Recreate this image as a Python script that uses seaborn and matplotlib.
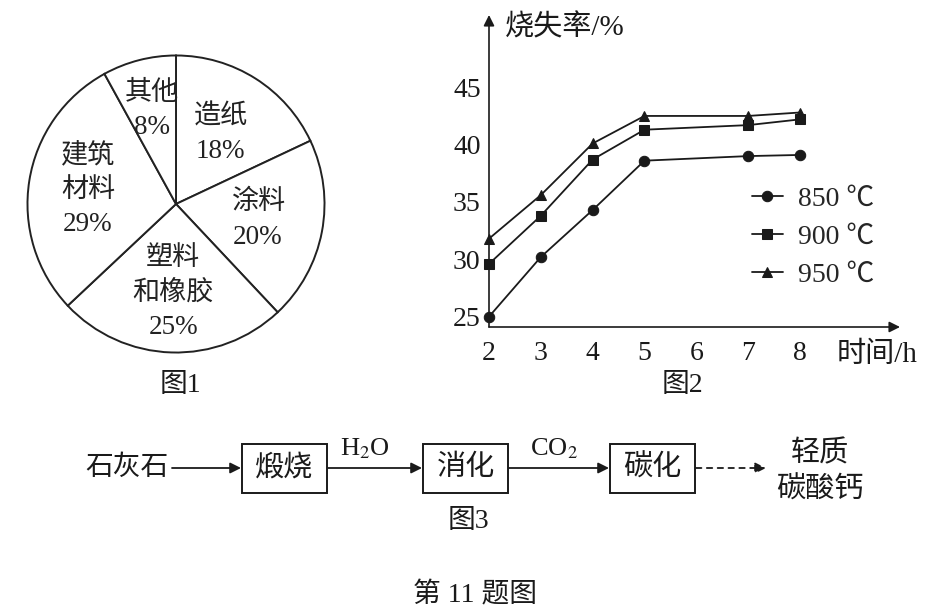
import numpy as np
import pandas as pd
import matplotlib
matplotlib.use('Agg')
import matplotlib.pyplot as plt
import seaborn as sns
from matplotlib.patches import Rectangle

# ---------------- data ----------------
pie_names = ['造纸', '涂料', '塑料\n和橡胶', '建筑\n材料', '其他']
pie_shares = [18, 20, 25, 29, 8]

hours = [2, 3, 4, 5, 7, 8]
loss_850 = [25.0, 30.2, 34.3, 38.6, 39.0, 39.1]
loss_900 = [29.6, 33.8, 38.7, 41.3, 41.7, 42.2]
loss_950 = [31.8, 35.6, 40.1, 42.5, 42.5, 42.8]
temps = ['850 ℃', '900 ℃', '950 ℃']
x_ticks = [2, 3, 4, 5, 6, 7, 8]
y_ticks = [25, 30, 35, 40, 45]

flow_start = '石灰石'
flow_steps = ['煅烧', '消化', '碳化']
flow_reagents = [r'H$_2$O', r'CO$_2$']
flow_end = '轻质\n碳酸钙'

# ---------------- style ----------------
sns.set_theme(style='white')
plt.rcParams['font.family'] = ['Liberation Serif', 'Noto Sans CJK SC', 'DejaVu Sans']
plt.rcParams['mathtext.fontset'] = 'stix'
plt.rcParams['axes.unicode_minus'] = False
INK = '#1a1a1a'

W, H = 943, 616
fig = plt.figure(figsize=(W / 100, H / 100), dpi=100)
fig.patch.set_facecolor('white')

# background overlay axes in pixel coordinates (top-left origin)
bg = fig.add_axes([0, 0, 1, 1])
bg.set_xlim(0, W)
bg.set_ylim(H, 0)
bg.axis('off')

# ---------------- pie (图1) ----------------
cx, cy, r = 176, 204, 150
pax = fig.add_axes([(cx - r) / W, 1 - (cy + r) / H, 2 * r / W, 2 * r / H])
labels = [f'{n}\n{p}%' for n, p in zip(pie_names, pie_shares)]
wedges, texts = pax.pie(pie_shares, labels=labels, startangle=90, counterclock=False,
                        labeldistance=0.6,
                        wedgeprops=dict(facecolor='white', edgecolor='#222222', linewidth=1.4),
                        textprops=dict(fontsize=19.5, color='#222222'))
for w, t in zip(wedges, texts):
    t.set_ha('center')
    t.set_va('center')
    t.set_multialignment('center')
    t.set_linespacing(1.5)
    ang = np.deg2rad((w.theta1 + w.theta2) / 2)
    span = abs(w.theta2 - w.theta1)
    d = 0.65 if span < 40 else (0.56 if span < 75 else 0.6)
    t.set_position((d * np.cos(ang), d * np.sin(ang)))
pax.set_xlim(-1.01, 1.01)
pax.set_ylim(-1.01, 1.01)
pax.set_aspect('equal')
pax.axis('off')

# ---------------- line chart (图2) ----------------
lax = fig.add_axes([489 / W, 1 - 327 / H, 411 / W, 312 / H])
df = pd.DataFrame({
    'hours': hours * 3,
    'loss': loss_850 + loss_900 + loss_950,
    'temp': [temps[0]] * len(hours) + [temps[1]] * len(hours) + [temps[2]] * len(hours),
})
sns.lineplot(data=df, x='hours', y='loss', hue='temp', style='temp',
             markers=['o', 's', '^'], dashes=False,
             palette=[INK] * 3, markersize=7.5, linewidth=1.3,
             markeredgecolor=INK, ax=lax, legend=True)
for ln in lax.lines:
    ln.set_clip_on(False)
lax.set_xlim(2, 9.93)
lax.set_ylim(24.1, 51.3)
lax.set_xticks(x_ticks)
lax.set_yticks(y_ticks)
lax.tick_params(axis='both', direction='in', length=5, width=1.1, colors=INK,
                labelsize=20)
lax.tick_params(axis='y', pad=6)
lax.tick_params(axis='x', pad=10)
for s in lax.spines.values():
    s.set_visible(False)
lax.set_facecolor('none')
lax.set_xlabel('')
lax.set_ylabel('')
# axis arrows
lax.annotate('', xy=(1, 0), xytext=(0, 0), xycoords='axes fraction',
             arrowprops=dict(arrowstyle='-|>', lw=1.2, color=INK,
                             mutation_scale=16, shrinkA=0, shrinkB=0))
lax.annotate('', xy=(0, 1), xytext=(0, 0), xycoords='axes fraction',
             arrowprops=dict(arrowstyle='-|>', lw=1.2, color=INK,
                             mutation_scale=16, shrinkA=0, shrinkB=0))
handles, labs = lax.get_legend_handles_labels()
pairs = [(h, l) for h, l in zip(handles, labs) if l in temps]
lax.legend([p[0] for p in pairs], [p[1] for p in pairs], loc='center left',
           bbox_to_anchor=(752 / W, 1 - 237 / H), bbox_transform=fig.transFigure,
           frameon=False, fontsize=20, handlelength=1.1, handletextpad=0.55,
           labelspacing=0.45, borderpad=0, borderaxespad=0)
bg.text(505, 28, '烧失率/%', fontsize=21, ha='left', va='center', color=INK)
bg.text(837, 355, '时间/h', fontsize=21, ha='left', va='center', color=INK)

# ---------------- captions ----------------
bg.text(180, 385, '图1', fontsize=20, ha='center', va='center', color=INK)
bg.text(682, 386, '图2', fontsize=20, ha='center', va='center', color=INK)
bg.text(468, 521, '图3', fontsize=20, ha='center', va='center', color=INK)
bg.text(475, 595, '第 11 题图', fontsize=20, ha='center', va='center', color=INK)

# ---------------- flow diagram (图3) ----------------
ymid = 468
boxes = [(242, 327), (423, 508), (610, 695)]
for (x0, x1), name in zip(boxes, flow_steps):
    bg.add_patch(Rectangle((x0, 444), x1 - x0, 49, facecolor='white',
                           edgecolor=INK, lw=1.4))
    bg.text((x0 + x1) / 2, ymid, name, fontsize=21, ha='center', va='center', color=INK)
bg.text(127, ymid, flow_start, fontsize=20, ha='center', va='center', color=INK)
arrow_kw = dict(arrowstyle='-|>', lw=1.3, color=INK, mutation_scale=16,
                shrinkA=0, shrinkB=0)
bg.annotate('', xy=(241, ymid), xytext=(172, ymid), arrowprops=arrow_kw)
bg.annotate('', xy=(422, ymid), xytext=(328, ymid), arrowprops=arrow_kw)
bg.annotate('', xy=(609, ymid), xytext=(509, ymid), arrowprops=arrow_kw)
bg.annotate('', xy=(766, ymid), xytext=(696, ymid),
            arrowprops=dict(arrow_kw, linestyle=(0, (3, 3))))
bg.text(365, 449, flow_reagents[0], fontsize=19, ha='center', va='center', color=INK)
bg.text(554, 449, flow_reagents[1], fontsize=19, ha='center', va='center', color=INK)
bg.text(820, 472, flow_end, fontsize=21, ha='center', va='center', color=INK,
        linespacing=1.4)

fig.savefig('out.png', dpi=100, facecolor='white')
